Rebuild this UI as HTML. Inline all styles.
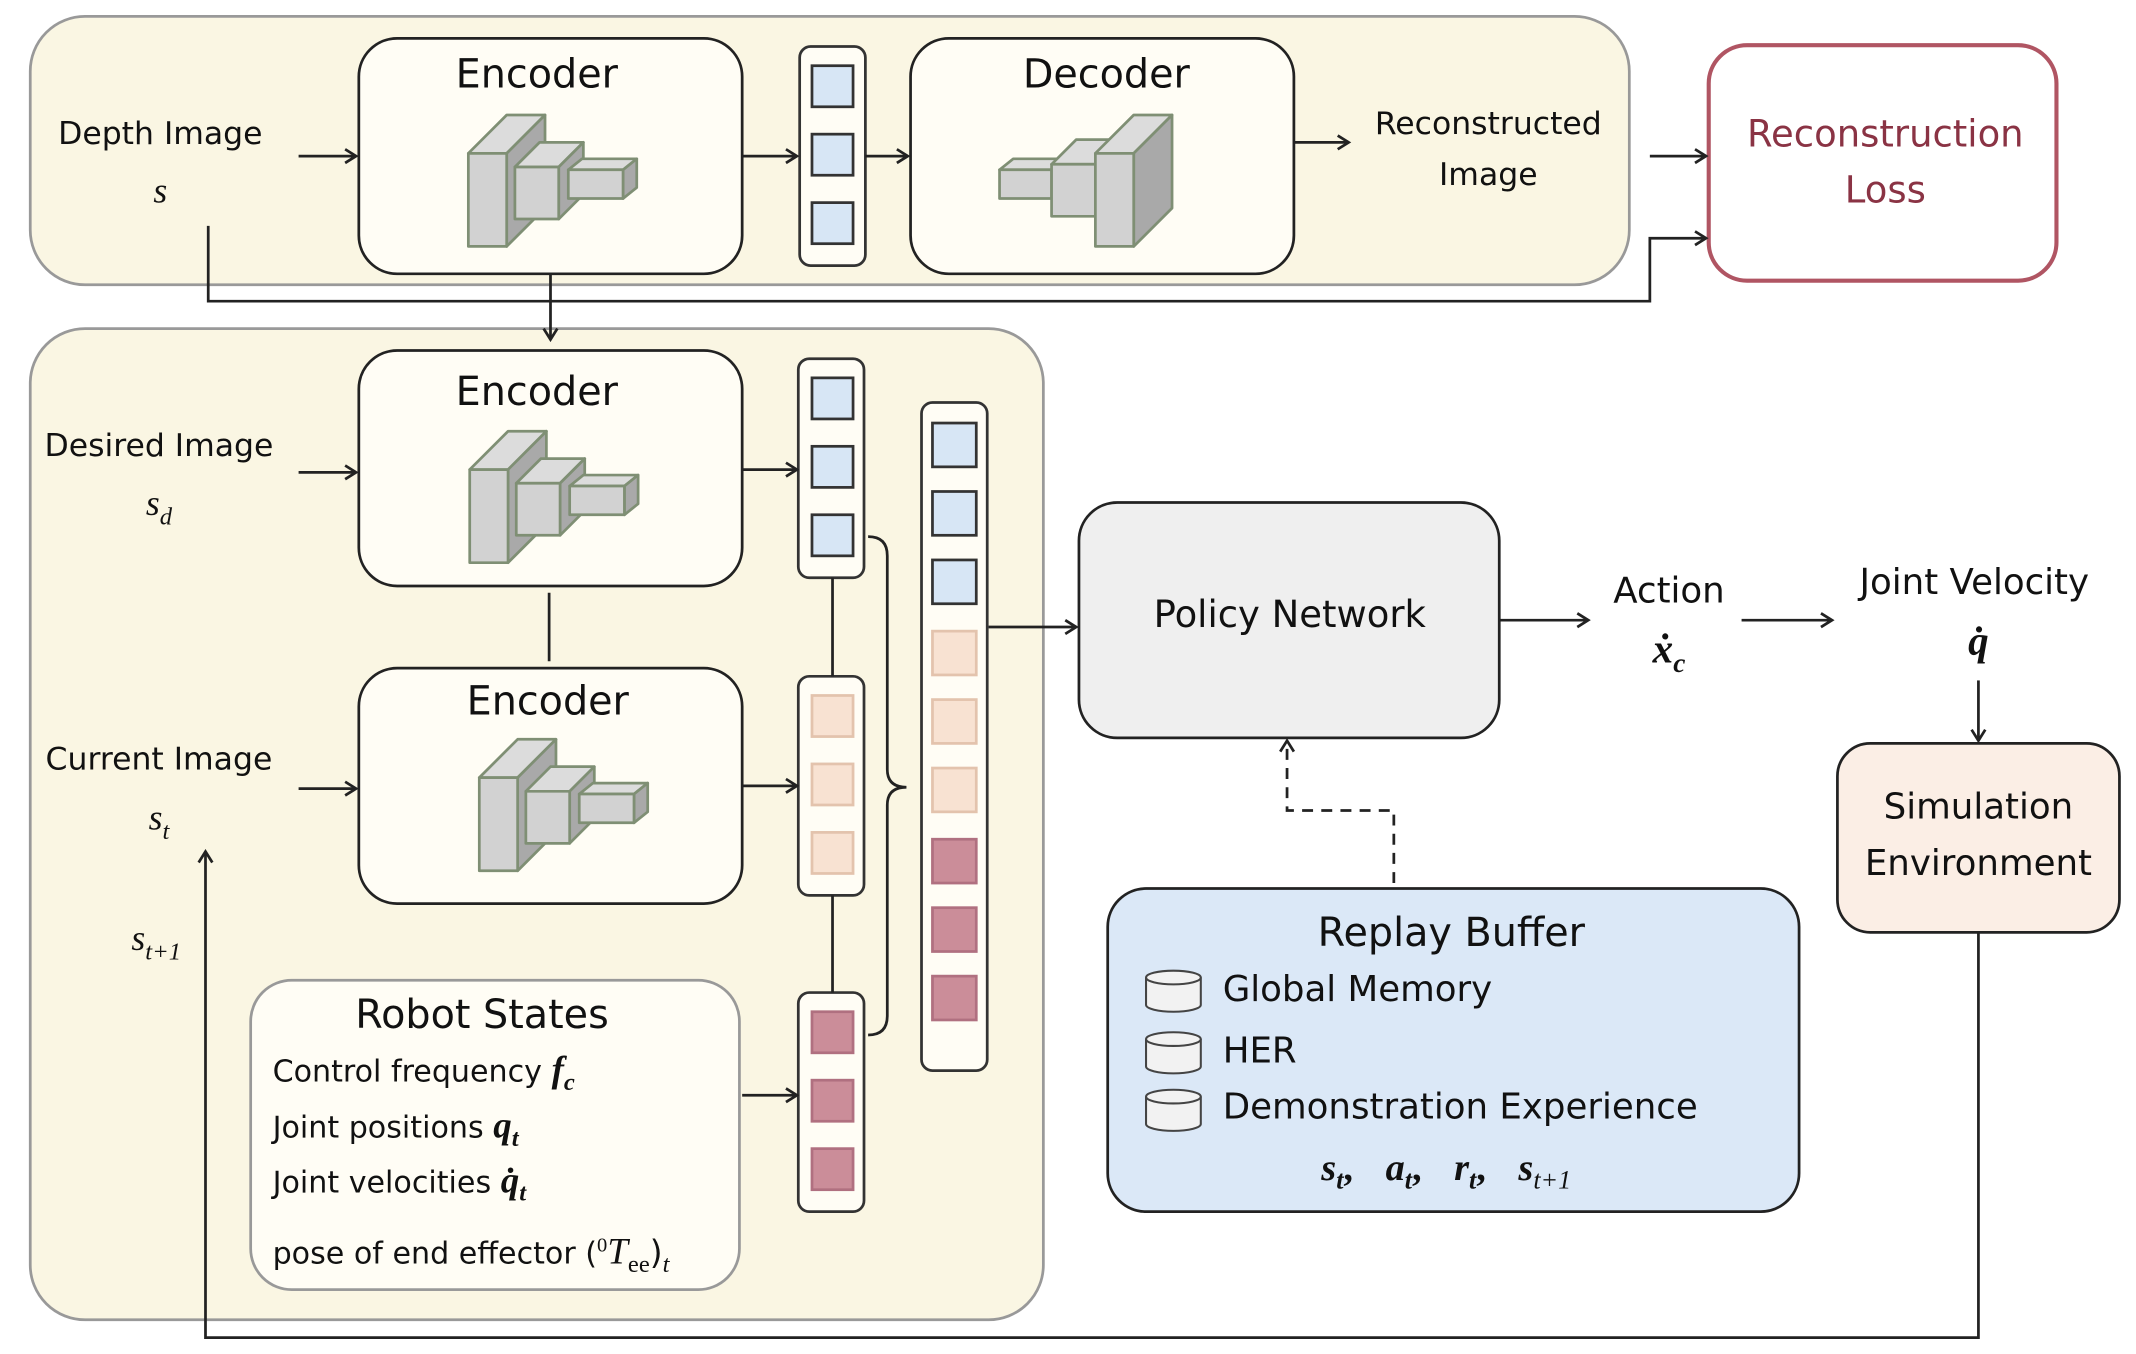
<!DOCTYPE html>
<html><head><meta charset="utf-8"><style>
html,body{margin:0;padding:0;background:#fff}
svg{display:block}
text{font-family:"DejaVu Sans","Liberation Sans",sans-serif;fill:#111}
.s{font-family:"Liberation Serif",serif;font-style:italic}
</style></head><body>
<svg width="2136" height="1354" viewBox="0 0 1560 989" xmlns="http://www.w3.org/2000/svg">
<defs>
<marker id="ah" markerWidth="12" markerHeight="12" refX="10" refY="6" orient="auto" markerUnits="userSpaceOnUse">
<path d="M2,1 L10,6 L2,11" fill="none" stroke="#222" stroke-width="2"/></marker>
<g id="enc" stroke="#7f8f74" stroke-width="2" stroke-linejoin="round">
<polygon points="0,0 28,0 56,-28 28,-28" fill="#dcdcdc"/>
<polygon points="28,0 56,-28 56,40 28,68" fill="#a9a9a9"/>
<rect x="0" y="0" width="28" height="68" fill="#d2d2d2"/>
<polygon points="34,10 66,10 84,-8 52,-8" fill="#dcdcdc"/>
<polygon points="66,10 84,-8 84,30 66,48" fill="#a9a9a9"/>
<rect x="34" y="10" width="32" height="38" fill="#d2d2d2"/>
<polygon points="73,12 113,12 123,4 83,4" fill="#dcdcdc"/>
<polygon points="113,12 123,4 123,25 113,33" fill="#a9a9a9"/>
<rect x="73" y="12" width="40" height="21" fill="#d2d2d2"/>
</g>
<g id="db" fill="#f2f2f2" stroke="#444" stroke-width="1.5">
<path d="M0,4 v20 a20,5 0 0 0 40,0 v-20"/>
<ellipse cx="20" cy="4" rx="20" ry="5"/>
</g>
</defs>
<rect x="22" y="12" width="1168" height="196" rx="40" fill="#faf6e3" stroke="#999" stroke-width="2"/>
<rect x="262" y="28" width="280" height="172" rx="28" fill="#fffdf5" stroke="#222" stroke-width="2"/>
<text x="392" y="64" font-size="29" text-anchor="middle">Encoder</text>
<use href="#enc" x="342" y="112"/>
<rect x="584" y="34" width="48" height="160" rx="8" fill="#fffdf5" stroke="#333" stroke-width="2"/>
<g fill="#d7e6f5" stroke="#333" stroke-width="2"><rect x="593" y="48" width="30" height="30"/><rect x="593" y="98" width="30" height="30"/><rect x="593" y="148" width="30" height="30"/></g>
<rect x="665" y="28" width="280" height="172" rx="28" fill="#fffdf5" stroke="#222" stroke-width="2"/>
<text x="808" y="64" font-size="29" text-anchor="middle">Decoder</text>
<g stroke="#7f8f74" stroke-width="2" stroke-linejoin="round">
<polygon points="730,124 768,124 778,116 740,116" fill="#dcdcdc"/><rect x="730" y="124" width="38" height="21" fill="#d2d2d2"/>
<polygon points="768,120 800,120 818,102 786,102" fill="#dcdcdc"/><rect x="768" y="120" width="32" height="38" fill="#d2d2d2"/>
<polygon points="800,112 828,112 856,84 828,84" fill="#dcdcdc"/>
<polygon points="828,112 856,84 856,152 828,180" fill="#a9a9a9"/>
<rect x="800" y="112" width="28" height="68" fill="#d2d2d2"/>
</g>
<text x="117" y="105" font-size="23" text-anchor="middle">Depth Image</text>
<text x="117" y="148" font-size="26" text-anchor="middle" class="s">s</text>
<text x="1087" y="98" font-size="23" text-anchor="middle">Reconstructed</text>
<text x="1087" y="135" font-size="23" text-anchor="middle">Image</text>
<rect x="1248" y="33" width="254" height="172" rx="28" fill="#fff" stroke="#b05563" stroke-width="3"/>
<text x="1377" y="107" font-size="27" text-anchor="middle" style="fill:#8a3344">Reconstruction</text>
<text x="1377" y="148" font-size="27" text-anchor="middle" style="fill:#8a3344">Loss</text>
<rect x="22" y="240" width="740" height="724" rx="40" fill="#faf6e3" stroke="#999" stroke-width="2"/>
<rect x="262" y="256" width="280" height="172" rx="28" fill="#fffdf5" stroke="#222" stroke-width="2"/>
<text x="392" y="296" font-size="29" text-anchor="middle">Encoder</text>
<use href="#enc" x="343" y="343"/>
<rect x="262" y="488" width="280" height="172" rx="28" fill="#fffdf5" stroke="#222" stroke-width="2"/>
<text x="400" y="522" font-size="29" text-anchor="middle">Encoder</text>
<use href="#enc" x="350" y="568"/>
<text x="116" y="333" font-size="23" text-anchor="middle">Desired Image</text>
<text x="116" y="376" font-size="26" text-anchor="middle" class="s">s<tspan font-size="18" dy="7">d</tspan></text>
<text x="116" y="562" font-size="23" text-anchor="middle">Current Image</text>
<text x="116" y="606" font-size="26" text-anchor="middle" class="s">s<tspan font-size="18" dy="7">t</tspan></text>
<text x="114" y="694" font-size="26" text-anchor="middle" class="s">s<tspan font-size="18" dy="7">t+1</tspan></text>
<rect x="583" y="262" width="48" height="160" rx="8" fill="#fffdf5" stroke="#333" stroke-width="2"/>
<rect x="583" y="494" width="48" height="160" rx="8" fill="#fffdf5" stroke="#333" stroke-width="2"/>
<rect x="583" y="725" width="48" height="160" rx="8" fill="#fffdf5" stroke="#333" stroke-width="2"/>
<rect x="673" y="294" width="48" height="488" rx="8" fill="#fffdf5" stroke="#333" stroke-width="2"/>
<g stroke="#333" stroke-width="2" fill="#d7e6f5"><rect x="593" y="276" width="30" height="30"/><rect x="593" y="326" width="30" height="30"/><rect x="593" y="376" width="30" height="30"/>
<rect x="681" y="309" width="32" height="32"/><rect x="681" y="359" width="32" height="32"/><rect x="681" y="409" width="32" height="32"/></g>
<g stroke="#e3c3ad" stroke-width="2" fill="#f8e2d2"><rect x="593" y="508" width="30" height="30"/><rect x="593" y="558" width="30" height="30"/><rect x="593" y="608" width="30" height="30"/>
<rect x="681" y="461" width="32" height="32"/><rect x="681" y="511" width="32" height="32"/><rect x="681" y="561" width="32" height="32"/></g>
<g stroke="#b07080" stroke-width="2" fill="#cb8d99"><rect x="593" y="739" width="30" height="30"/><rect x="593" y="789" width="30" height="30"/><rect x="593" y="839" width="30" height="30"/>
<rect x="681" y="613" width="32" height="32"/><rect x="681" y="663" width="32" height="32"/><rect x="681" y="713" width="32" height="32"/></g>
<rect x="183" y="716" width="357" height="226" rx="30" fill="#fffdf5" stroke="#999" stroke-width="2"/>
<text x="352" y="751" font-size="29" text-anchor="middle">Robot States</text>
<text x="199" y="790" font-size="22">Control frequency <tspan class="s" font-weight="bold" font-size="27">f<tspan font-size="18" dy="6">c</tspan></tspan></text>
<text x="199" y="831" font-size="22">Joint positions <tspan class="s" font-weight="bold" font-size="27">q<tspan font-size="18" dy="6">t</tspan></tspan></text>
<text x="199" y="871" font-size="22">Joint velocities <tspan class="s" font-weight="bold" font-size="27">q̇<tspan font-size="18" dy="6">t</tspan></tspan></text>
<text x="199" y="923" font-size="22">pose of end effector (<tspan font-size="15" dy="-9" font-family="Liberation Serif">0</tspan><tspan class="s" font-size="27" dy="9">T</tspan><tspan font-size="18" dy="6" font-family="Liberation Serif">ee</tspan><tspan dy="-6" font-size="24">)</tspan><tspan class="s" font-size="18" dy="6">t</tspan></text>
<rect x="788" y="367" width="307" height="172" rx="28" fill="#efefef" stroke="#222" stroke-width="2"/>
<text x="942" y="458" font-size="27" text-anchor="middle">Policy Network</text>
<text x="1219" y="440" font-size="26" text-anchor="middle">Action</text>
<text x="1219" y="484" font-size="30" text-anchor="middle" class="s" font-weight="bold">ẋ<tspan font-size="20" dy="7">c</tspan></text>
<text x="1442" y="434" font-size="26" text-anchor="middle">Joint Velocity</text>
<text x="1445" y="478" font-size="30" text-anchor="middle" class="s" font-weight="bold">q̇</text>
<rect x="1342" y="543" width="206" height="138" rx="24" fill="#fbeee5" stroke="#222" stroke-width="2"/>
<text x="1445" y="598" font-size="26" text-anchor="middle">Simulation</text>
<text x="1445" y="639" font-size="26" text-anchor="middle">Environment</text>
<rect x="809" y="649" width="505" height="236" rx="28" fill="#dbe8f7" stroke="#222" stroke-width="2"/>
<text x="1060" y="691" font-size="29" text-anchor="middle">Replay Buffer</text>
<use href="#db" x="837" y="710"/><use href="#db" x="837" y="755"/><use href="#db" x="837" y="797"/>
<text x="893" y="731" font-size="26">Global Memory</text>
<text x="893" y="776" font-size="26">HER</text>
<text x="893" y="817" font-size="26">Demonstration Experience</text>
<g class="s" font-size="28" font-weight="bold">
<text x="965" y="862" class="s">s<tspan font-size="19" dy="6">t</tspan><tspan dy="-6" font-style="normal">,</tspan></text>
<text x="1012" y="862" class="s">a<tspan font-size="19" dy="6">t</tspan><tspan dy="-6" font-style="normal">,</tspan></text>
<text x="1062" y="862" class="s">r<tspan font-size="19" dy="6">t</tspan><tspan dy="-6" font-style="normal">,</tspan></text>
<text x="1109" y="862" class="s">s<tspan font-size="19" dy="6" font-weight="normal">t+1</tspan></text>
</g>
<g fill="none" stroke="#222" stroke-width="2">
<line x1="218" y1="114" x2="260" y2="114" marker-end="url(#ah)"/>
<line x1="542" y1="114" x2="582" y2="114" marker-end="url(#ah)"/>
<line x1="632" y1="114" x2="663" y2="114" marker-end="url(#ah)"/>
<line x1="945" y1="104" x2="985" y2="104" marker-end="url(#ah)"/>
<line x1="1205" y1="114" x2="1246" y2="114" marker-end="url(#ah)"/>
<polyline points="152,165 152,220 1205,220 1205,174 1246,174" marker-end="url(#ah)"/>
<line x1="402" y1="200" x2="402" y2="248" marker-end="url(#ah)"/>
<line x1="218" y1="345" x2="260" y2="345" marker-end="url(#ah)"/>
<line x1="218" y1="576" x2="260" y2="576" marker-end="url(#ah)"/>
<line x1="542" y1="343" x2="582" y2="343" marker-end="url(#ah)"/>
<line x1="542" y1="574" x2="582" y2="574" marker-end="url(#ah)"/>
<line x1="542" y1="800" x2="582" y2="800" marker-end="url(#ah)"/>
<line x1="401" y1="433" x2="401" y2="483"/>
<line x1="608" y1="422" x2="608" y2="494"/>
<line x1="608" y1="654" x2="608" y2="725"/>
<path d="M634,392 Q648,392 648,406 L648,562 Q648,575 662,575 Q648,575 648,588 L648,742 Q648,756 634,756"/>
<line x1="722" y1="458" x2="786" y2="458" marker-end="url(#ah)"/>
<line x1="1095" y1="453" x2="1160" y2="453" marker-end="url(#ah)"/>
<line x1="1272" y1="453" x2="1338" y2="453" marker-end="url(#ah)"/>
<line x1="1445" y1="497" x2="1445" y2="541" marker-end="url(#ah)"/>
<polyline points="1445,681 1445,977 150,977 150,622" marker-end="url(#ah)"/>
<polyline points="1018,645 1018,592 940,592 940,541" stroke-dasharray="8,6" marker-end="url(#ah)"/>
</g>
</svg>
</body></html>
